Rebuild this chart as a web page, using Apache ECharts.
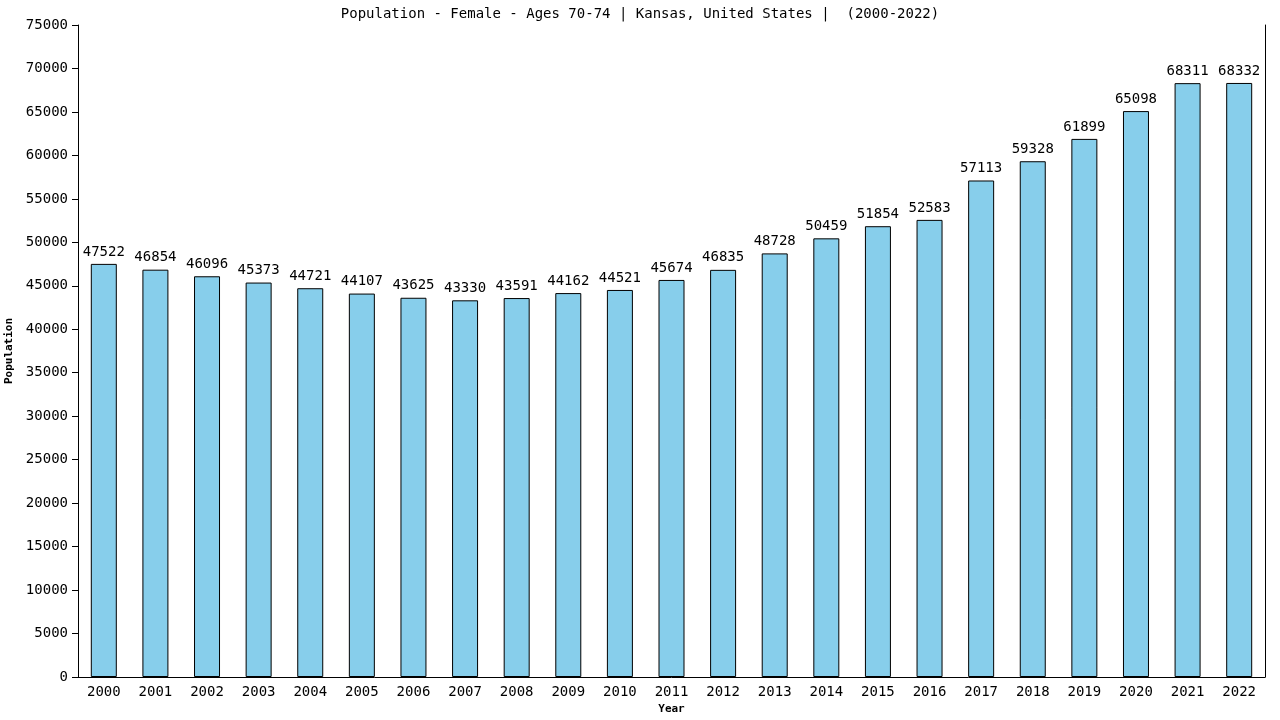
<!DOCTYPE html>
<html><head><meta charset="utf-8">
<script src="https://cdn.jsdelivr.net/npm/echarts@6/dist/echarts.min.js"></script>
<style>html,body{margin:0;padding:0;background:#fff}#c{width:1280px;height:720px}</style>
</head><body><div id="c"></div>
<script>
const years = ["2000","2001","2002","2003","2004","2005","2006","2007","2008","2009","2010","2011","2012","2013","2014","2015","2016","2017","2018","2019","2020","2021","2022"];
const population = [47522,46854,46096,45373,44721,44107,43625,43330,43591,44162,44521,45674,46835,48728,50459,51854,52583,57113,59328,61899,65098,68311,68332];
const chart = echarts.init(document.getElementById('c'), null, {renderer:'canvas'});
const font = "'DejaVu Sans Mono', monospace";
chart.setOption({
  animation:false,
  title:{text:'Population - Female - Ages 70-74 | Kansas, United States |  (2000-2022)',left:'center',top:2,
    textStyle:{fontFamily:font,fontSize:14,fontWeight:'normal',color:'#000'}},
  grid:{left:78,right:15,top:25,bottom:43,show:false,containLabel:false,outerBoundsMode:'none'},
  xAxis:{type:'category',data:years,name:'Year',nameLocation:'middle',nameGap:26,
    nameTextStyle:{fontFamily:font,fontSize:11,fontWeight:'bold',color:'#000'},
    axisLine:{lineStyle:{color:'#000',width:1}},axisTick:{show:false},
    axisLabel:{fontFamily:font,fontSize:14,color:'#000',margin:8}},
  yAxis:[{type:'value',min:0,max:75000,interval:5000,name:'Population',nameLocation:'middle',nameGap:56,
    nameTextStyle:{fontFamily:font,fontSize:11,fontWeight:'bold',color:'#000'},
    axisLine:{show:true,lineStyle:{color:'#000',width:1}},axisTick:{show:true,length:6,lineStyle:{color:'#000'}},
    splitLine:{show:false},
    axisLabel:{fontFamily:font,fontSize:14,color:'#000',margin:10,formatter:v=>String(v)}},
    {type:'value',min:0,max:75000,position:'right',axisLine:{show:true,lineStyle:{color:'#000'}},axisTick:{show:false},axisLabel:{show:false},splitLine:{show:false}}],
  series:[{type:'bar',data:population,barWidth:26,
    itemStyle:{color:'#87ceeb',borderColor:'#000',borderWidth:1},
    label:{show:true,position:'top',distance:5,fontFamily:font,fontSize:14,color:'#000'}}]
});
</script></body></html>
